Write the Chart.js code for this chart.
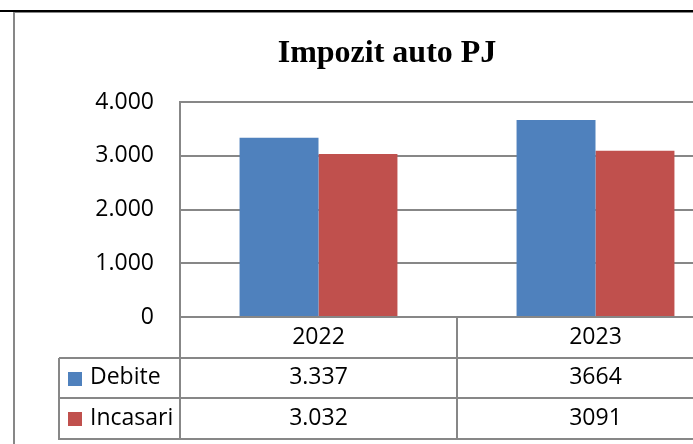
<!DOCTYPE html>
<html>
<head>
<meta charset="utf-8">
<script src="https://cdn.jsdelivr.net/npm/chart.js@4"></script>
<style>
  html, body { margin: 0; padding: 0; background: #fff; overflow: hidden; }
  #wrap { position: absolute; left: 0; top: 0; width: 760px; height: 444px; }
</style>
</head>
<body>
<div id="wrap"><canvas id="grafico" width="760" height="444"></canvas></div>
<script>
const titlu = 'Impozit auto PJ';
const categorii = ['2022', '2023'];
const debite = [3337, 3664];
const incasari = [3032, 3091];
// textele din tabelul de date, asa cum apar in grafic
const debiteText = ['3.337', '3664'];
const incasariText = ['3.032', '3091'];
const yMax = 4000;
const yPas = 1000;

const albastru = '#4F81BD';
const rosu = '#C0504D';
const gri = '#878787';
const fontText = '"Open Sans", "Liberation Sans", sans-serif';

function formatMii(v) {
    return String(v).replace(/\B(?=(\d{3})+(?!\d))/g, '.');
}

// chenarul de sus si marginea din stanga
const chenar = {
    id: 'chenar',
    afterDraw(chart) {
        const ctx = chart.ctx;
        ctx.save();
        ctx.fillStyle = '#000';
        ctx.fillRect(0, 10, chart.width, 2);
        ctx.fillStyle = gri;
        ctx.fillRect(13, 12, chart.width, 1);
        ctx.fillRect(13, 12, 2, chart.height);
        ctx.restore();
    }
};

const titluPlugin = {
    id: 'titluPlugin',
    afterDraw(chart) {
        const ctx = chart.ctx;
        ctx.save();
        ctx.font = 'bold 32px "Liberation Serif", "Times New Roman", serif';
        ctx.fillStyle = '#000';
        ctx.textAlign = 'center';
        ctx.textBaseline = 'alphabetic';
        ctx.fillText(titlu, 387, 62);
        ctx.restore();
    }
};

// tabelul de date de sub grafic
const tabel = {
    id: 'tabel',
    afterDraw(chart) {
        const ctx = chart.ctx;
        const area = chart.chartArea;
        const x = chart.scales.x;
        const latime = (area.right - area.left) / categorii.length;
        const y0 = area.bottom;
        const rand = 40.5;
        const stangaLegenda = 59;
        const jos = y0 + rand * 3;

        ctx.save();
        ctx.fillStyle = gri;
        // linii orizontale
        ctx.fillRect(area.left, y0 - 1, chart.width, 2);
        for (let r = 1; r <= 3; r++) {
            ctx.fillRect(stangaLegenda, Math.round(y0 + rand * r) - 1, chart.width, 2);
        }
        // linii verticale
        ctx.fillRect(stangaLegenda - 1, Math.round(y0 + rand), 2, Math.round(jos - y0 - rand) + 1);
        for (let i = 0; i <= categorii.length; i++) {
            const xl = Math.round(area.left + latime * i);
            ctx.fillRect(xl - 1, y0, 2, jos - y0 + 1);
        }

        ctx.fillStyle = '#000';
        ctx.font = '23px ' + fontText;
        ctx.textAlign = 'center';
        ctx.textBaseline = 'middle';
        categorii.forEach((c, i) => {
            const cx = x.getPixelForValue(i);
            ctx.fillText(c, cx, y0 + rand * 0.5);
            ctx.fillText(debiteText[i], cx, y0 + rand * 1.5);
            ctx.fillText(incasariText[i], cx, y0 + rand * 2.5);
        });

        const serii = chart.data.datasets;
        ctx.textAlign = 'left';
        serii.forEach((s, k) => {
            const cy = y0 + rand * (k + 1.5);
            ctx.fillStyle = s.backgroundColor;
            ctx.fillRect(68, Math.round(cy) - 6, 14, 14);
            ctx.fillStyle = '#000';
            ctx.fillText(s.label, 90, cy);
        });
        ctx.restore();
    }
};

const ctx = document.getElementById('grafico').getContext('2d');
new Chart(ctx, {
    type: 'bar',
    data: {
        labels: categorii,
        datasets: [
            { label: 'Debite', data: debite, backgroundColor: albastru },
            { label: 'Incasari', data: incasari, backgroundColor: rosu }
        ]
    },
    options: {
        responsive: false,
        animation: false,
        events: [],
        layout: { padding: { left: 14, top: 102, right: 26, bottom: 0 } },
        categoryPercentage: 0.57,
        barPercentage: 1.0,
        plugins: {
            legend: { display: false },
            title: { display: false },
            tooltip: { enabled: false }
        },
        scales: {
            x: {
                afterFit(scale) { scale.height = 444 - 317; },
                ticks: { display: false },
                grid: { display: false },
                border: { display: false }
            },
            y: {
                min: 0,
                max: yMax,
                afterFit(scale) { scale.width = 180 - 14; },
                ticks: {
                    stepSize: yPas,
                    padding: 26,
                    color: '#000',
                    font: { family: fontText, size: 23 },
                    callback: (v) => formatMii(v)
                },
                grid: { color: gri, lineWidth: 2, drawTicks: false },
                border: { display: true, color: gri, width: 2 }
            }
        }
    },
    plugins: [chenar, titluPlugin, tabel]
});
</script>
</body>
</html>
